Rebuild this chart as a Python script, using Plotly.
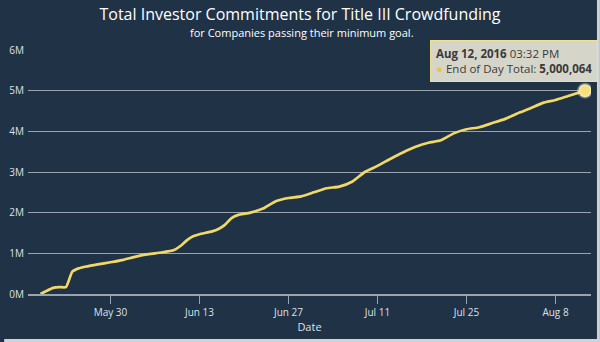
import plotly.graph_objects as go

# Cumulative committed dollars, end of each sampled day
dates = [
    "2016-05-19", "2016-05-20", "2016-05-21", "2016-05-22", "2016-05-23",
    "2016-05-24", "2016-05-25", "2016-05-26", "2016-05-28", "2016-05-30",
    "2016-06-01", "2016-06-03", "2016-06-05", "2016-06-07", "2016-06-09",
    "2016-06-10", "2016-06-11", "2016-06-12", "2016-06-13", "2016-06-15",
    "2016-06-16", "2016-06-17", "2016-06-18", "2016-06-19", "2016-06-21",
    "2016-06-23", "2016-06-25", "2016-06-27", "2016-06-29", "2016-07-01",
    "2016-07-03", "2016-07-05", "2016-07-07", "2016-07-09", "2016-07-11",
    "2016-07-13", "2016-07-15", "2016-07-17", "2016-07-19", "2016-07-21",
    "2016-07-23", "2016-07-25", "2016-07-27", "2016-07-29", "2016-07-31",
    "2016-08-02", "2016-08-04", "2016-08-06", "2016-08-08", "2016-08-10",
    "2016-08-12 15:32",
]
totals = [
    0, 80000, 150000, 170000, 170000,
    550000, 630000, 670000, 730000, 780000,
    840000, 920000, 980000, 1020000, 1080000,
    1180000, 1320000, 1420000, 1470000, 1540000,
    1600000, 1700000, 1860000, 1940000, 2000000,
    2100000, 2280000, 2360000, 2400000, 2500000,
    2600000, 2640000, 2760000, 3000000, 3150000,
    3320000, 3480000, 3620000, 3720000, 3780000,
    3950000, 4050000, 4100000, 4200000, 4300000,
    4440000, 4560000, 4700000, 4770000, 4870000,
    5000064,
]
y_ticks = [0, 1000000, 2000000, 3000000, 4000000, 5000000, 6000000]
y_tick_text = ["0M", "1M", "2M", "3M", "4M", "5M", "6M"]

BG = "#1f3246"
LINE = "#f2d867"
GRID = "#9ba4ae"
TXT = "#dde1e6"
FONT = "Open Sans"

W, H = 600, 342
ML, MR, MT, MB = 24, 9, 50, 48
PW, PH = W - ML - MR, H - MT - MB

fig = go.Figure()
fig.add_trace(go.Scatter(
    x=dates, y=totals, mode="lines",
    line=dict(color=LINE, width=2.7, shape="spline", smoothing=0.5),
    hoverinfo="skip", showlegend=False,
))
# highlighted last point
fig.add_trace(go.Scatter(
    x=dates[-1:], y=totals[-1:], mode="markers",
    marker=dict(size=13, color="#f5e07c",
                line=dict(color="rgba(255,255,255,0.35)", width=3)),
    hoverinfo="skip", showlegend=False,
))

fig.update_layout(
    width=W, height=H,
    margin=dict(l=ML, r=MR, t=MT, b=MB),
    paper_bgcolor=BG, plot_bgcolor=BG,
    font=dict(family=FONT, color=TXT, size=10),
    title=dict(
        text="Total Investor Commitments for Title III Crowdfunding",
        x=0.5, xref="container", xanchor="center",
        y=1 - 14 / H, yref="container", yanchor="middle",
        font=dict(family=FONT, size=16, color="#ffffff"),
    ),
    xaxis=dict(
        type="date",
        range=["2016-05-17 00:45", "2016-08-13 14:00"],
        tick0="2016-05-30", dtick=14 * 86400000,
        tickformat="%b %-d",
        ticks="outside", ticklen=8, tickcolor=GRID, tickwidth=1,
        showline=True, linecolor=GRID, linewidth=1.5,
        showgrid=False, zeroline=False,
        tickfont=dict(size=10, color=TXT),
        title=dict(text="Date", font=dict(size=11, color=TXT), standoff=5),
    ),
    yaxis=dict(
        range=[0, 6000000],
        tickvals=y_ticks, ticktext=y_tick_text,
        showgrid=True, gridcolor=GRID, gridwidth=1,
        zeroline=False, showline=False,
        tickfont=dict(size=10, color=TXT),
        ticklabelstandoff=3,
    ),
)

annotations = [
    dict(
        text="for Companies passing their minimum goal.",
        xref="paper", yref="paper",
        x=(300 - ML) / PW, y=(H - MB - 32) / PH,
        xanchor="center", yanchor="middle", showarrow=False,
        font=dict(family=FONT, size=11, color="#ffffff"),
    ),
    dict(
        text=("<b>Aug 12, 2016</b> 03:32 PM<br>"
              "<span style='color:#e8c84a'>●</span> End of Day Total: <b>5,000,064</b>"),
        x=dates[-1], y=totals[-1], xref="x", yref="y",
        xanchor="right", yanchor="bottom",
        xshift=13, yshift=9,
        showarrow=False, align="left",
        bgcolor="rgba(228,226,212,0.93)", bordercolor="#efe08c",
        borderwidth=1, borderpad=5,
        font=dict(family=FONT, size=11.5, color="#3a3a3a"),
    ),
]
fig.update_layout(annotations=annotations)

# thin light frame along the right and bottom edges
fig.add_shape(type="rect", xref="paper", yref="paper", layer="above",
              x0=(597 - ML) / PW, x1=(W - ML) / PW,
              y0=-MB / PH, y1=1 + MT / PH,
              fillcolor="#cfd3d7", line=dict(width=0))
fig.add_shape(type="rect", xref="paper", yref="paper", layer="above",
              x0=-ML / PW, x1=(W - ML) / PW,
              y0=-MB / PH, y1=-(MB - 3) / PH,
              fillcolor="#cfd3d7", line=dict(width=0))

fig.write_html("out.html")
